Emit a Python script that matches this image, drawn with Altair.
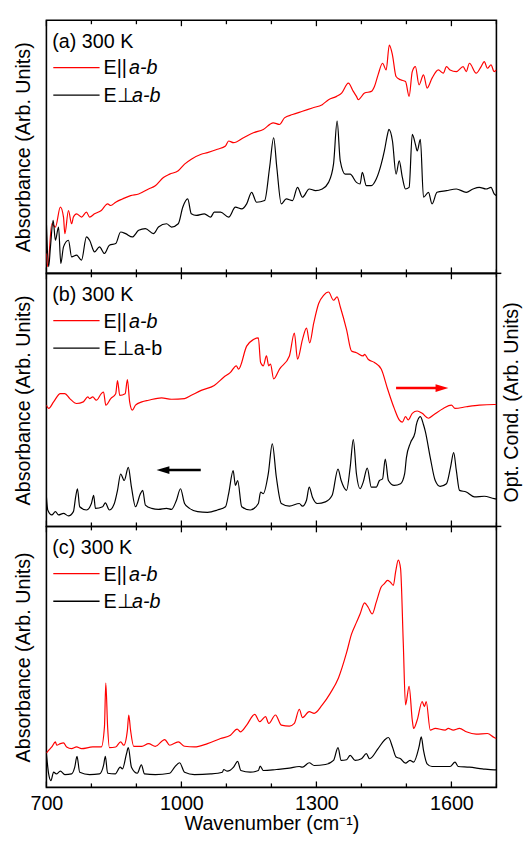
import altair as alt
import pandas as pd

FONT = "Liberation Sans"

# ---------------- Panel (a) ----------------
a_par_wn = [700,703,712,720,731,738,741,749,756,760,767,778,789,796,807,822,836,843,854,869,
            887,905,927,942,960,974,993,1007,1022,1044,1058,1080,1098,1105,1116,1138,1160,1182,1204,1218,
            1229,1247,1269,1291,1313,1327,1345,1356,1371,1382,1389,1393,1407,1422,1429,1437,1447,1455,1462,1469,
            1477,1487,1498,1506,1513,1520,1528,1538,1546,1557,1571,1582,1589,1597,1611,1626,1633,1640,1655,1666,
            1673,1680,1688,1695,1700]
a_par_val = [60,20,150,140,200,170,120,190,150,170,180,170,185,170,180,190,210,205,215,225,
             235,240,255,265,290,300,310,330,345,360,365,375,385,400,395,410,425,435,455,450,
             470,480,490,500,510,525,535,545,575,550,535,525,545,550,565,600,635,615,690,660,
             595,585,580,535,610,625,570,600,560,590,615,605,625,615,610,625,610,635,605,625,
             640,620,630,610,615]
a_perp_wn = [700,705,709,715,720,727,732,738,749,756,767,778,789,796,807,818,829,840,854,865,
             876,891,905,920,938,949,967,978,993,1003,1014,1022,1033,1051,1065,1073,1087,1105,1120,1134,
             1145,1156,1167,1185,1196,1205,1212,1222,1233,1247,1258,1269,1284,1298,1313,1327,1338,1346,1353,1364,
             1375,1389,1397,1402,1411,1422,1433,1444,1451,1458,1461,1469,1477,1484,1491,1498,1506,1513,1520,1524,
             1531,1538,1549,1557,1568,1589,1611,1633,1648,1662,1677,1688,1695,1700]
a_perp_val = [150,20,80,160,100,140,30,80,100,50,55,40,110,100,65,80,60,85,90,125,
              120,110,130,135,120,140,150,140,150,200,225,180,175,180,170,185,185,170,200,195,
              210,245,215,220,320,410,320,210,225,220,260,230,255,250,255,275,330,460,340,300,
              300,275,270,305,265,265,285,330,370,420,435,400,300,340,290,255,260,420,390,370,
              405,230,245,210,245,250,255,245,255,260,255,260,240,235]

# ---------------- Panel (b) ----------------
b_par_wn = [700,705,716,731,741,752,767,782,792,796,803,811,822,827,832,843,854,858,863,875,
            880,885,891,898,912,927,956,978,1007,1022,1044,1073,1094,1109,1122,1127,1145,1160,1171,1176,
            1182,1189,1194,1198,1205,1218,1240,1251,1258,1269,1278,1285,1294,1305,1316,1327,1338,1346,1353,1367,
            1378,1389,1404,1407,1415,1429,1444,1458,1473,1484,1491,1498,1504,1513,1524,1535,1549,1560,1582,1600,
            1608,1633,1662,1695,1700]
b_par_val = [370,360,380,405,405,390,375,380,395,390,395,385,405,410,370,390,405,445,400,405,
             448,380,355,370,380,385,392,388,390,400,415,430,455,470,490,480,550,570,575,500,
             490,520,490,495,450,480,520,590,510,570,605,560,620,680,705,715,690,700,670,600,
             535,530,520,525,510,500,480,420,360,325,318,335,325,345,352,345,330,340,360,370,
             360,365,370,372,372]
b_perp_wn = [700,703,712,720,727,738,749,760,765,769,774,789,800,805,809,825,831,840,851,858,
             865,873,882,889,898,909,914,920,934,949,967,978,989,998,1007,1018,1036,1058,1080,1098,
             1105,1115,1120,1125,1134,1153,1171,1176,1182,1193,1202,1211,1222,1240,1262,1269,1278,1284,1291,1302,
             1320,1335,1348,1355,1367,1375,1382,1389,1397,1404,1413,1422,1433,1440,1447,1453,1460,1473,1487,1496,
             1500,1509,1519,1522,1531,1538,1542,1553,1564,1575,1589,1598,1605,1611,1618,1633,1651,1673,1695,1700]
b_perp_val = [90,50,35,45,35,40,32,45,90,115,60,50,70,95,55,60,72,50,70,110,
              160,140,180,120,60,100,110,65,55,52,55,52,80,115,70,55,45,43,50,60,
              100,170,125,140,60,50,70,105,100,160,252,150,70,62,70,62,80,120,90,70,
              75,95,175,140,110,180,265,160,115,135,178,120,120,140,145,205,140,125,130,160,
              210,255,285,310,335,310,290,210,140,122,130,180,225,170,110,105,90,92,85,84]

# arrows in panel (b): start, head, level
arrow_red = {"wn": [1477], "wn2": [1579], "val": [422]}
arrow_black = {"wn": [1043], "wn2": [959], "val": [172]}

# ---------------- Panel (c) ----------------
c_par_wn = [700,705,712,720,723,731,738,745,756,767,778,803,822,829,832,836,840,854,865,872,
            880,883,887,894,912,927,942,963,974,993,1007,1029,1058,1087,1109,1124,1131,1145,1163,1174,
            1187,1194,1209,1222,1240,1251,1262,1269,1284,1295,1313,1331,1349,1367,1378,1389,1397,1407,1415,1424,
            1433,1444,1451,1458,1464,1471,1476,1482,1487,1493,1498,1506,1513,1516,1524,1535,1540,1544,1553,1564,
            1586,1593,1604,1618,1633,1655,1680,1695,1700]
c_par_val = [102,110,120,135,125,130,132,120,115,120,115,120,120,180,310,180,118,120,135,125,
             170,215,170,122,122,130,122,142,125,135,122,120,130,145,155,173,165,185,217,195,
             210,190,215,185,182,190,232,207,225,220,245,280,325,400,455,490,515,548,535,515,
             550,595,605,615,610,600,640,675,650,430,245,300,200,175,200,255,240,255,170,175,
             170,175,170,175,165,158,160,148,145]
c_perp_wn = [700,705,710,716,722,731,741,756,763,768,774,796,818,827,831,836,853,864,869,878,
             882,889,902,911,918,942,974,985,996,1007,1029,1065,1091,1094,1102,1116,1125,1132,1153,1171,
             1175,1182,1211,1240,1262,1269,1284,1295,1320,1338,1348,1355,1367,1375,1386,1400,1411,1418,1437,1451,
             1460,1469,1477,1487,1498,1508,1516,1528,1533,1538,1546,1557,1575,1597,1608,1615,1640,1669,1695,1700]
c_perp_val = [100,40,20,45,40,48,38,40,60,92,45,38,40,65,92,42,40,60,55,100,
              118,60,42,67,40,38,42,60,73,45,38,40,45,53,48,60,77,50,45,50,
              63,50,53,57,62,60,73,65,68,80,118,80,82,95,80,85,100,85,115,140,
              148,120,90,85,72,80,75,120,150,110,70,62,62,62,75,62,60,55,52,52]

# axis ticks
x_major = [700, 1000, 1300, 1600]
x_minor = [800, 900, 1100, 1200, 1400, 1500, 1700]
x_labels = [700, 1000, 1300, 1600]

W = 457
XTITLE = "Wavenumber (cm\u207b\u00b9)"


def one():
    return alt.Data(values=[{"k": 0}])


def txt(s, x, y, italic=False, size=20, **kw):
    return alt.Chart(one()).mark_text(
        text=s, font=FONT, fontSize=size, fontStyle="italic" if italic else "normal",
        align=kw.pop("align", "left"), baseline=kw.pop("baseline", "alphabetic"),
        color="black", **kw
    ).encode(x=alt.value(x), y=alt.value(y))


def panel(par_wn, par_val, perp_wn, perp_val, ymax, H, label, perp_italic,
          bottom=False, right_title=None, arrows=False):
    df = pd.concat([
        pd.DataFrame({"wn": par_wn, "val": par_val, "s": "par"}),
        pd.DataFrame({"wn": perp_wn, "val": perp_val, "s": "perp"}),
    ])
    xscale = alt.Scale(domain=[700, 1700], nice=False, zero=False)
    if bottom:
        xaxis = alt.Axis(values=x_labels, format="d", ticks=False, domain=False, grid=False,
                         labelFlush=False, labelOverlap=False,
                         labelFont=FONT, labelFontSize=20, labelColor="black", labelPadding=6,
                         titleFont=FONT, titleFontSize=20, titleFontWeight="normal",
                         titleColor="black", titlePadding=1)
    else:
        xaxis = None
    yscale = alt.Scale(domain=[0, ymax], nice=False, zero=False)
    yaxis = alt.Axis(title="Absorbance (Arb. Units)", labels=False, ticks=False, domain=False,
                     grid=False, titleFont=FONT, titleFontSize=20, titleFontWeight="normal",
                     titleColor="black", titlePadding=13)

    def X(field="wn"):
        return alt.X(f"{field}:Q", scale=xscale, axis=xaxis, title=XTITLE)

    lines = alt.Chart(df).mark_line(strokeWidth=1.2, clip=True, interpolate="monotone").encode(
        x=X(),
        y=alt.Y("val:Q", scale=yscale, axis=yaxis),
        color=alt.Color("s:N", scale=alt.Scale(domain=["perp", "par"], range=["black", "red"]),
                        legend=None),
    )
    layers = [lines]
    for vals, ln in ((x_major, 6), (x_minor, 4)):
        tdf = pd.DataFrame({"wn": vals})
        layers.append(alt.Chart(tdf).mark_rule(color="black", strokeWidth=1.3).encode(
            x=X(), y=alt.value(H), y2=alt.value(H - ln)))
        layers.append(alt.Chart(tdf).mark_rule(color="black", strokeWidth=1.3).encode(
            x=X(), y=alt.value(0), y2=alt.value(ln)))

    # label and legend
    layers.append(txt(f"({label}) 300 K", 6, 28))
    layers.append(alt.Chart(one()).mark_rule(color="red", strokeWidth=1.3).encode(
        x=alt.value(7), x2=alt.value(54), y=alt.value(48)))
    layers.append(alt.Chart(one()).mark_rule(color="black", strokeWidth=1.3).encode(
        x=alt.value(7), x2=alt.value(54), y=alt.value(76)))
    layers.append(txt("E||", 58, 55))
    layers.append(txt("a-b", 84, 55, italic=True))
    if perp_italic:
        layers.append(txt("E\u22a5", 58, 83))
        layers.append(txt("a-b", 87, 83, italic=True))
    else:
        layers.append(txt("E\u22a5a-b", 58, 83))

    if arrows:
        for d, color, shape in ((arrow_red, "red", "M -1 -0.6 L 1 0 L -1 0.6 Z"),
                                (arrow_black, "black", "M 1 -0.6 L -1 0 L 1 0.6 Z")):
            adf = pd.DataFrame(d)
            layers.append(alt.Chart(adf).mark_rule(color=color, strokeWidth=2.5).encode(
                x=X(), x2="wn2:Q", y=alt.Y("val:Q", scale=yscale, axis=yaxis)))
            layers.append(alt.Chart(adf).mark_point(shape=shape, size=170, filled=True,
                                                    color=color, opacity=1).encode(
                x=X("wn2"), y=alt.Y("val:Q", scale=yscale, axis=yaxis)))

    if right_title:
        # outward ticks of the right-hand axis at the panel corners
        for yy in (0, H):
            layers.append(alt.Chart(one()).mark_rule(color="black", strokeWidth=1.5).encode(
                x=alt.value(W), x2=alt.value(W + 5), y=alt.value(yy)))
        layers.append(txt(right_title, W + 16, 131, align="center", baseline="middle", angle=270))

    return alt.layer(*layers).properties(width=W, height=H)


pa = panel(a_par_wn, a_par_val, a_perp_wn, a_perp_val, 765, 257, "a", True)
pb = panel(b_par_wn, b_par_val, b_perp_wn, b_perp_val, 772, 257, "b", False,
           right_title="Opt. Cond. (Arb. Units)", arrows=True)
pc = panel(c_par_wn, c_par_val, c_perp_wn, c_perp_val, 775, 265, "c", True, bottom=True)

chart = alt.vconcat(pa, pb, pc, spacing=0, bounds="flush").properties(
    padding={"left": 5, "top": 4, "right": 0, "bottom": 0}
).configure_view(stroke="black", strokeWidth=1.6).configure_concat(spacing=0)

chart.save("out.html", embed_options={"renderer": "svg", "actions": False})
